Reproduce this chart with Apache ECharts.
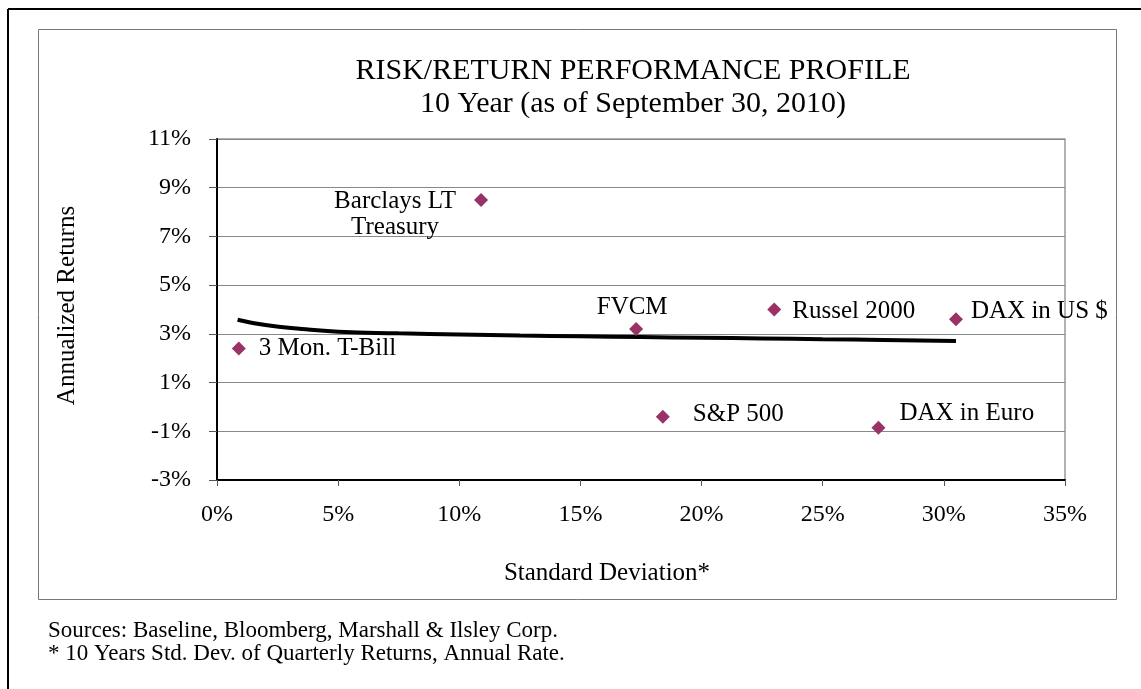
<!DOCTYPE html>
<html>
<head>
<meta charset="utf-8">
<title>Risk/Return Performance Profile</title>
<script src="https://cdn.jsdelivr.net/npm/echarts@6/dist/echarts.min.js"></script>
<style>
	html, body { margin: 0; padding: 0; background: #fff; }
	#chart { width: 1141px; height: 689px; }
</style>
</head>
<body>
<div id="chart"></div>
<script>
// 各资产: 标准差(%) / 年化收益(%)
const names = ['Barclays LT\nTreasury', '3 Mon. T-Bill', 'FVCM', 'Russel 2000', 'DAX in US $', 'S&P 500', 'DAX in Euro']
const stdDev = [10.9, 0.9, 17.3, 23.0, 30.5, 18.4, 27.3]
const returns = [8.5, 2.4, 3.2, 4.0, 3.6, -0.4, -0.85]

// 曲线
const curveX = [0.85, 2, 3.5, 5, 7.5, 10, 12.5, 15, 17.5, 20, 22.5, 25, 27.5, 30.5]
const curveY = [3.58, 3.36, 3.2, 3.09, 3.02, 2.97, 2.93, 2.9, 2.87, 2.84, 2.81, 2.78, 2.75, 2.71]

const xTicks = { min: 0, max: 35, interval: 5 }
const yTicks = { min: -3, max: 11, interval: 2 }

// 标签位置
const labelPos = [
	{ position: 'inside', align: 'center', offset: [-86, 15] },
	{ position: 'right', distance: 13 },
	{ position: 'inside', align: 'center', offset: [-4, -22] },
	{ position: 'right', distance: 11, offset: [0, 2] },
	{ position: 'right', distance: 8, offset: [0, -8] },
	{ position: 'right', distance: 23, offset: [0, -2] },
	{ position: 'right', distance: 14, offset: [0, -14] }
]

const font = "'Liberation Serif', 'Times New Roman', serif"

let chart = echarts.init(document.getElementById('chart'))

let pts = []
for (let i = 0; i < names.length; i++) {
	pts.push({
		name: names[i],
		value: [stdDev[i], returns[i]],
		label: Object.assign({
			show: true, formatter: '{b}', color: '#000', opacity: 1,
			textBorderWidth: 0, fontFamily: font, fontSize: 25, lineHeight: 26
		}, labelPos[i])
	})
}
let curve = []
for (let i = 0; i < curveX.length; i++) {
	curve.push([curveX[i], curveY[i]])
}

let option = {
	backgroundColor: '#fff',
	animation: false,
	title: [
		{
			text: 'RISK/RETURN PERFORMANCE PROFILE\n10 Year (as of September 30, 2010)',
			left: 628,
			top: 50,
			textAlign: 'center',
			textStyle: { fontFamily: font, fontSize: 30, fontWeight: 'normal', color: '#000', lineHeight: 33 }
		},
		{
			text: 'Standard Deviation*',
			left: 602,
			top: 556,
			textAlign: 'center',
			textStyle: { fontFamily: font, fontSize: 25, fontWeight: 'normal', color: '#000' }
		},
		{
			text: 'Sources: Baseline, Bloomberg, Marshall & Ilsley Corp.\n* 10 Years Std. Dev. of Quarterly Returns, Annual Rate.',
			left: 43,
			top: 615,
			textStyle: { fontFamily: font, fontSize: 23, fontWeight: 'normal', color: '#000', lineHeight: 22.5 }
		}
	],
	graphic: [
		{ type: 'rect', shape: { x: 38.5, y: 29.5, width: 1078, height: 570 }, style: { fill: 'none', stroke: '#777', lineWidth: 1 }, z: -1 },
		{ type: 'line', shape: { x1: 8, y1: 9, x2: 1141, y2: 9 }, style: { stroke: '#000', lineWidth: 2 } },
		{ type: 'line', shape: { x1: 8, y1: 9, x2: 8, y2: 689 }, style: { stroke: '#000', lineWidth: 2 } }
	],
	grid: {
		left: 217,
		right: 76,
		top: 139,
		bottom: 209,
		show: true,
		borderColor: '#999',
		borderWidth: 1.5
	},
	xAxis: {
		type: 'value',
		min: xTicks.min,
		max: xTicks.max,
		interval: xTicks.interval,
		axisLine: { show: true, onZero: false, lineStyle: { color: '#000', width: 2 } },
		axisTick: { show: true, length: 6, lineStyle: { color: '#555' } },
		axisLabel: { formatter: '{value}%', margin: 23, color: '#000', fontFamily: font, fontSize: 24 },
		splitLine: { show: false }
	},
	yAxis: {
		type: 'value',
		min: yTicks.min,
		max: yTicks.max,
		interval: yTicks.interval,
		name: 'Annualized Returns',
		nameLocation: 'middle',
		nameGap: 137,
		nameTextStyle: { color: '#000', fontFamily: font, fontSize: 25, padding: [0, 0, 0, 8] },
		axisLine: { show: true, onZero: false, lineStyle: { color: '#000', width: 2 } },
		axisTick: { show: true, length: 8, lineStyle: { color: '#555' } },
		axisLabel: { formatter: '{value}%', margin: 26, color: '#000', fontFamily: font, fontSize: 24 },
		splitLine: { show: true, lineStyle: { color: '#888', width: 1 } }
	},
	series: [
		{
			type: 'line',
			data: curve,
			smooth: true,
			symbol: 'none',
			lineStyle: { color: '#000', width: 4 },
			z: 2
		},
		{
			type: 'scatter',
			data: pts,
			symbol: 'diamond',
			symbolSize: 14,
			itemStyle: { color: '#993366', opacity: 1 },
			z: 3
		}
	]
}

chart.setOption(option)

window.addEventListener('resize', function () {
	chart.resize()
})
</script>
</body>
</html>
